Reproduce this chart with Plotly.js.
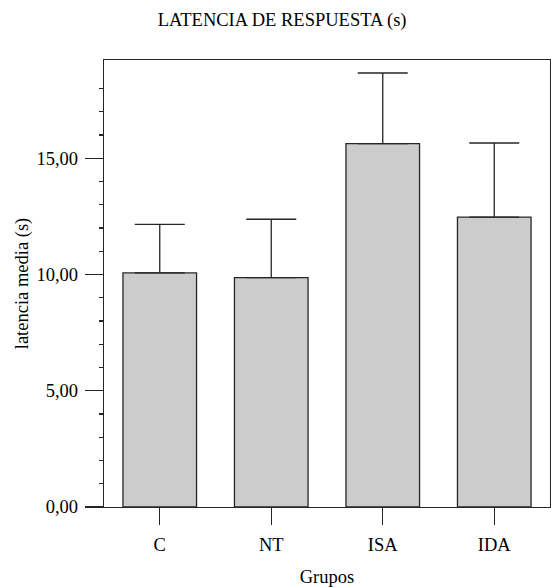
<!DOCTYPE html>
<html>
<head>
<meta charset="utf-8">
<script src="https://cdn.plot.ly/plotly-3.0.1.min.js"></script>
<style>html,body{margin:0;padding:0;background:#fff;}#chart{width:551px;height:587px;}</style>
</head>
<body>
<div id="chart"></div>
<script>
const groups = ["C", "NT", "ISA", "IDA"];
const meanLatency = [10.07, 9.87, 15.63, 12.47];
const errorUpper = [2.09, 2.51, 3.04, 3.19];
const yTickVals = [0, 5, 10, 15];
const minorTickVals = [1,2,3,4,6,7,8,9,11,12,13,14,16,17,18];

const lineCol = "#262626";
const fontFam = "'Liberation Serif', 'Times New Roman', serif";
const fs = 18.5;

const trace = {
  type: "bar",
  x: groups,
  y: meanLatency,
  width: 0.66,
  marker: {color: "#cccccc", line: {color: lineCol, width: 1.3}},
  error_y: {type: "data", array: errorUpper, symmetric: false, arrayminus: [0,0,0,0],
            color: lineCol, thickness: 1.3, width: 25},
  hoverinfo: "none"
};

const layout = {
  width: 551, height: 587,
  margin: {l: 104, r: 1, t: 60, b: 80, pad: 0},
  paper_bgcolor: "#fff", plot_bgcolor: "#fff",
  font: {family: fontFam, size: fs, color: "#000"},
  separators: ",.",
  showlegend: false,
  title: {text: "LATENCIA DE RESPUESTA (s)", font: {family: fontFam, size: fs, color: "#000"},
          xref: "container", x: 0.512, xanchor: "center", yref: "container", y: 1 - 20/587, yanchor: "middle"},
  xaxis: {
    type: "category", range: [-0.5, 3.5],
    showline: true, linecolor: lineCol, linewidth: 1.3, mirror: true,
    ticks: "outside", ticklen: 17, tickwidth: 1.3, tickcolor: lineCol,
    ticklabelstandoff: 3,
    showgrid: false, zeroline: false, fixedrange: true,
    tickfont: {family: fontFam, size: fs, color: "#000"},
    title: {text: "Grupos", font: {family: fontFam, size: fs, color: "#000"}, standoff: 17}
  },
  yaxis: {
    range: [0, 19.23],
    tickmode: "array", tickvals: yTickVals, tickformat: ".2f",
    showline: true, linecolor: lineCol, linewidth: 1.3, mirror: true,
    ticks: "outside", ticklen: 18, tickwidth: 1.3, tickcolor: lineCol,
    ticklabelstandoff: 3,
    minor: {tickmode: "array", tickvals: minorTickVals, ticks: "outside", ticklen: 4, tickwidth: 1.3, tickcolor: lineCol, showgrid: false},
    showgrid: false, zeroline: false, fixedrange: true,
    tickfont: {family: fontFam, size: fs, color: "#000"},
    title: {text: "latencia media (s)", font: {family: fontFam, size: fs, color: "#000"}, standoff: 3}
  }
};

Plotly.newPlot("chart", [trace], layout, {displayModeBar: false, staticPlot: true});
</script>
</body>
</html>
